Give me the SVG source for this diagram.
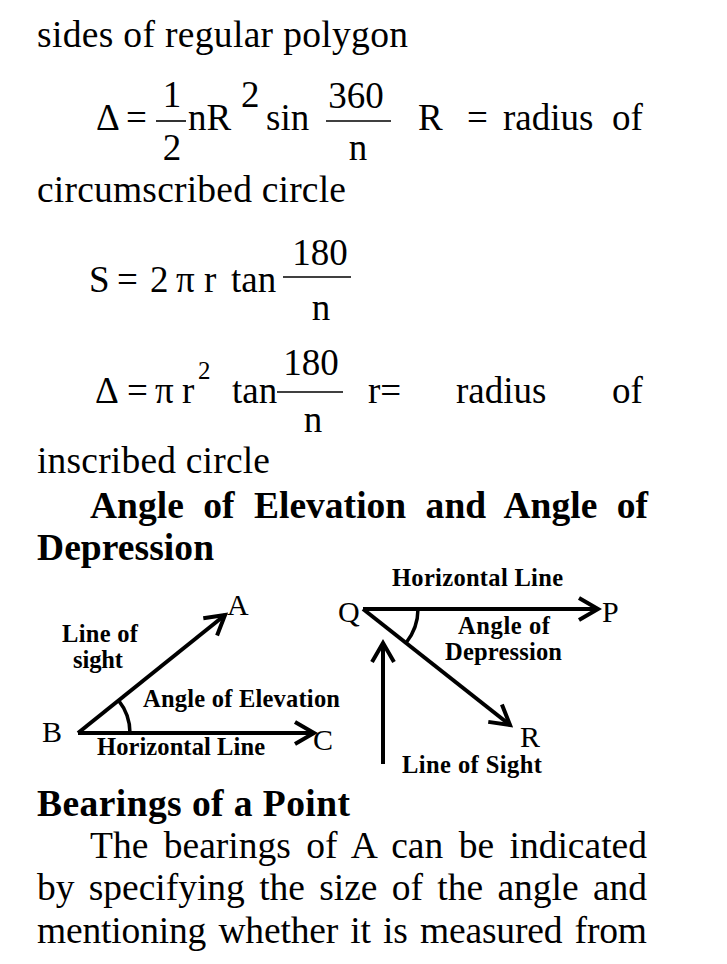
<svg xmlns="http://www.w3.org/2000/svg" width="727" height="964" viewBox="0 0 727 964">
<style>
  .t { font-family: "Liberation Serif", serif; font-size: 37.5px; fill: #000; }
  .b { font-family: "Liberation Serif", serif; font-size: 37.5px; font-weight: bold; fill: #000; }
  .f { font-family: "Liberation Serif", serif; font-size: 37px; fill: #000; }
  .sup { font-family: "Liberation Serif", serif; font-size: 25px; fill: #000; }
  .m { text-anchor: middle; }
  .lbl { font-family: "Liberation Serif", serif; font-size: 30px; fill: #000; }
  .bl { font-family: "Liberation Serif", serif; font-size: 24.5px; font-weight: bold; fill: #000; }
  .bar { stroke: #000; stroke-width: 1.6; }
  .conn { stroke: #000; stroke-width: 4; fill: none; }
  .arc { stroke: #000; stroke-width: 3.5; fill: none; }
</style>
<defs>
  <marker id="chev" markerUnits="userSpaceOnUse" viewBox="-24 -14 28 28" refX="0" refY="0" markerWidth="28" markerHeight="28" orient="auto">
    <path d="M-19,-11 L0,0 L-19,11" fill="none" stroke="#000" stroke-width="4"/>
  </marker>
</defs>
<rect width="727" height="964" fill="#fff"/>

<g id="text-top">
  <text class="t" x="37" y="47" textLength="371" lengthAdjust="spacing">sides of regular polygon</text>
</g>

<g id="formula-area-circumscribed">
  <text class="f" x="96" y="130">Δ</text>
  <text class="f" x="126" y="130">=</text>
  <text class="f m" x="172" y="107">1</text>
  <line class="bar" x1="156" y1="121" x2="186" y2="121"/>
  <text class="f m" x="172" y="160">2</text>
  <text class="f" x="188" y="130">nR</text>
  <text class="f" x="241" y="107">2</text>
  <text class="f" x="266" y="130">sin</text>
  <text class="f m" x="356" y="108">360</text>
  <line class="bar" x1="326" y1="121" x2="391" y2="121"/>
  <text class="f m" x="358" y="160">n</text>
  <text class="f" x="418" y="130">R</text>
  <text class="f" x="467" y="130">=</text>
  <text class="f" x="503" y="130">radius</text>
  <text class="f" x="612" y="130">of</text>
</g>

<g id="text-circumscribed">
  <text class="t" x="37" y="202" textLength="309" lengthAdjust="spacing">circumscribed circle</text>
</g>

<g id="formula-side-inscribed">
  <text class="f" x="89" y="292">S</text>
  <text class="f" x="117" y="292">=</text>
  <text class="f" x="150" y="292">2</text>
  <text class="f" x="176" y="292">π</text>
  <text class="f" x="204" y="292">r</text>
  <text class="f" x="231" y="292">tan</text>
  <text class="f m" x="320" y="265">180</text>
  <line class="bar" x1="283" y1="277" x2="351" y2="277"/>
  <text class="f m" x="321" y="320">n</text>
</g>

<g id="formula-area-inscribed">
  <text class="f" x="95" y="403">Δ</text>
  <text class="f" x="127" y="403">=</text>
  <text class="f" x="155" y="403">π</text>
  <text class="f" x="182" y="403">r</text>
  <text class="sup" x="198" y="379">2</text>
  <text class="f" x="232" y="403">tan</text>
  <text class="f m" x="311" y="375">180</text>
  <line class="bar" x1="277" y1="392" x2="343" y2="392"/>
  <text class="f m" x="313" y="432">n</text>
  <text class="f" x="368" y="403">r=</text>
  <text class="f" x="456" y="403">radius</text>
  <text class="f" x="612" y="403">of</text>
</g>

<g id="text-inscribed">
  <text class="t" x="37" y="473" textLength="233" lengthAdjust="spacing">inscribed circle</text>
</g>

<g id="heading-angles">
  <text class="b" x="90" y="518" word-spacing="10" textLength="558" lengthAdjust="spacing">Angle of Elevation and Angle of</text>
  <text class="b" x="37" y="560" textLength="177" lengthAdjust="spacing">Depression</text>
</g>

<g id="connectors">
  <line class="conn" x1="78" y1="733" x2="314" y2="733" marker-end="url(#chev)"/>
  <line class="conn" x1="78" y1="733" x2="225" y2="615" marker-end="url(#chev)"/>
  <path class="arc" d="M118.5,700.4 A52,52 0 0 1 130,733"/>
  <line class="conn" x1="363" y1="609" x2="598" y2="609" marker-end="url(#chev)"/>
  <line class="conn" x1="363" y1="609" x2="510" y2="725" marker-end="url(#chev)"/>
  <path class="arc" d="M418,609 A55,55 0 0 1 406,643"/>
  <line class="conn" x1="383" y1="764" x2="383" y2="643" marker-end="url(#chev)"/>
</g>

<g id="node-A"><text class="lbl" x="227" y="615">A</text></g>
<g id="node-B"><text class="lbl" x="42" y="742">B</text></g>
<g id="node-C"><text class="lbl" x="313" y="750">C</text></g>
<g id="label-line-of-sight-left">
  <text class="bl" x="62" y="642" textLength="76" lengthAdjust="spacing">Line of</text>
  <text class="bl" x="73" y="668" textLength="50" lengthAdjust="spacing">sight</text>
</g>
<g id="label-angle-elevation"><text class="bl" x="143" y="707" textLength="197" lengthAdjust="spacing">Angle of Elevation</text></g>
<g id="label-horizontal-left"><text class="bl" x="97" y="755" textLength="168" lengthAdjust="spacing">Horizontal Line</text></g>

<g id="node-Q"><text class="lbl" x="338" y="622">Q</text></g>
<g id="node-P"><text class="lbl" x="602" y="622">P</text></g>
<g id="node-R"><text class="lbl" x="520" y="747">R</text></g>
<g id="label-horizontal-right"><text class="bl" x="392" y="586" textLength="171" lengthAdjust="spacing">Horizontal Line</text></g>
<g id="label-angle-depression">
  <text class="bl" x="458" y="634" textLength="92" lengthAdjust="spacing">Angle of</text>
  <text class="bl" x="445" y="660" textLength="117" lengthAdjust="spacing">Depression</text>
</g>
<g id="label-line-of-sight-right"><text class="bl" x="402" y="773" textLength="140" lengthAdjust="spacing">Line of Sight</text></g>

<g id="text-bearings">
  <text class="b" x="37" y="816" textLength="313" lengthAdjust="spacing">Bearings of a Point</text>
  <text class="t" x="90" y="858" word-spacing="6" textLength="557" lengthAdjust="spacing">The bearings of A can be indicated</text>
  <text class="t" x="37" y="900" word-spacing="5" textLength="610" lengthAdjust="spacing">by specifying the size of the angle and</text>
  <text class="t" x="37" y="943" word-spacing="3" textLength="610" lengthAdjust="spacing">mentioning whether it is measured from</text>
</g>
</svg>
